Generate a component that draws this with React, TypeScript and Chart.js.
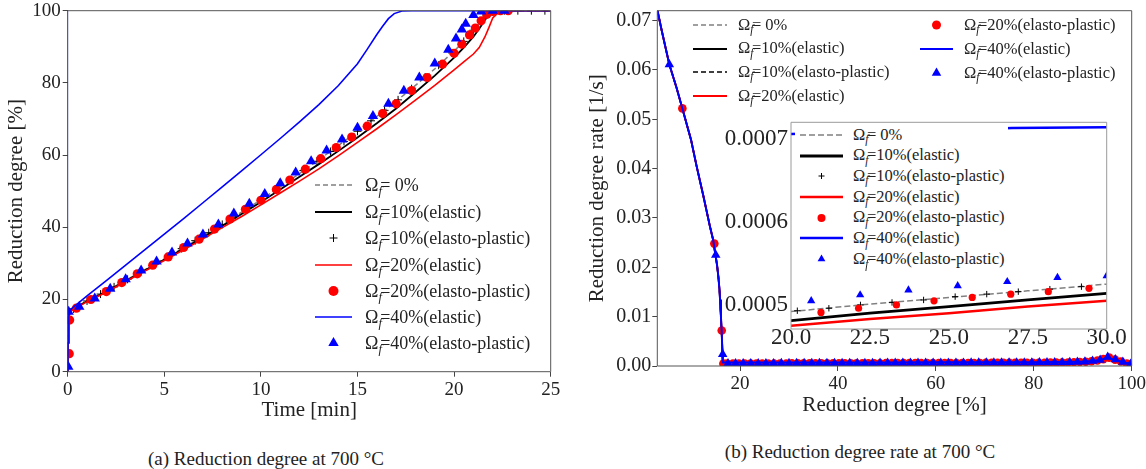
import React, { useEffect, useRef } from 'react';
import { Chart, registerables } from 'chart.js';

Chart.register(...registerables);

const FONT = "'Liberation Serif', 'Times New Roman', serif";
Chart.defaults.font.family = FONT;

// ================= Panel (a): Reduction degree vs time =================
const timeTicks = [0, 5, 10, 15, 20, 25];
const degreeTicks = [0, 20, 40, 60, 80, 100];

// Ωf = 0%
const t0 = [0, 0.02, 0.05, 0.15, 1, 2, 3, 4, 5, 6, 7, 8, 9, 10, 11, 12, 13, 14, 15, 16, 17, 18, 19, 20, 20.5, 21, 21.3, 21.6, 21.9, 22.2, 25];
const r0 = [0, 8, 15.5, 17, 19.6, 22.3, 25.3, 28.3, 31.3, 34.4, 37.5, 40.8, 44.2, 47.6, 51.2, 54.9, 58.7, 62.6, 66.6, 70.7, 74.9, 79.3, 83.9, 88.8, 91.5, 94.6, 96.5, 98.4, 99.6, 100, 100];
// Ωf = 10% elastic
const t10e = [0, 0.02, 0.05, 0.15, 1, 2, 3, 4, 5, 6, 7, 8, 9, 10, 11, 12, 13, 14, 15, 16, 17, 18, 19, 20, 20.5, 21, 21.3, 21.6, 21.9, 22.2, 25];
const r10e = [0, 8, 15.5, 17, 19.5, 22.2, 25.1, 28.1, 31.1, 34.1, 37.2, 40.4, 43.7, 47.0, 50.5, 54.0, 57.5, 61.1, 64.9, 68.8, 72.9, 77.4, 82.0, 87.0, 89.8, 92.8, 95.0, 97.5, 99.4, 100, 100];
// Ωf = 10% elasto-plastic (+)
const t10p = [0.3, 1.0, 1.7, 2.4, 3.1, 3.8, 4.5, 5.2, 5.9, 6.6, 7.3, 8.0, 8.7, 9.4, 10.1, 10.8, 11.5, 12.2, 12.9, 13.6, 14.3, 15.0, 15.7, 16.4, 17.1, 17.8, 18.5, 19.2, 19.9, 20.5, 21.0, 21.5, 22.0, 22.6, 23.3, 24.0, 24.7];
const r10p = [17.4, 19.6, 21.5, 23.5, 25.6, 27.7, 29.8, 31.9, 34.1, 36.3, 38.5, 40.8, 43.2, 45.6, 48.0, 50.5, 53.1, 55.7, 58.3, 61.0, 63.8, 66.6, 69.5, 72.4, 75.3, 78.4, 81.6, 84.9, 88.3, 91.5, 94.6, 97.8, 99.8, 100, 100, 100, 100];
// Ωf = 20% elastic
const t20e = [0, 0.02, 0.05, 0.15, 1, 2, 3, 4, 5, 6, 7, 8, 9, 10, 11, 12, 13, 14, 15, 16, 17, 18, 19, 20, 20.5, 21, 21.3, 21.6, 21.8, 22.0, 22.3, 22.6, 25];
const r20e = [0, 8, 15, 16.7, 19.4, 22, 25, 27.9, 30.8, 33.8, 36.8, 39.9, 43.0, 46.2, 49.5, 52.8, 56.2, 59.8, 63.5, 67.3, 71.2, 75.2, 79.3, 83.6, 85.8, 88.0, 89.8, 92.8, 95.3, 98.0, 99.5, 100, 100];
// Ωf = 20% elasto-plastic (dots)
const t20p = [0.08, 0.1, 0.45, 1.2, 2.0, 2.8, 3.6, 4.4, 5.2, 6.0, 6.8, 7.6, 8.4, 9.2, 10.0, 10.8, 11.5, 12.3, 13.1, 13.9, 14.7, 15.5, 16.3, 17.0, 17.8, 18.6, 19.4, 20.0, 20.4, 20.8, 21.1, 21.4, 21.7, 22.0, 22.4, 22.8];
const r20p = [5.0, 14.3, 17.6, 20.0, 22.2, 24.7, 27.1, 29.5, 31.8, 34.4, 36.7, 39.5, 42.3, 45.0, 47.5, 50.5, 53.1, 56.1, 59.0, 62.1, 65.0, 68.0, 71.5, 74.2, 77.9, 81.5, 85.2, 88.2, 90.7, 93.3, 95.2, 97.2, 99.0, 99.8, 100, 100];
// Ωf = 40% elastic
const t40e = [0, 0.02, 0.05, 0.12, 1, 2, 3, 4, 5, 6, 7, 8, 9, 10, 11, 12, 13, 14, 15, 15.5, 16, 16.3, 16.6, 16.9, 17.3, 17.8, 25];
const r40e = [0, 8, 15.5, 17.1, 21, 25.2, 29.5, 33.8, 38.1, 42.4, 46.8, 51.2, 55.6, 60.1, 64.6, 69.2, 74, 79.2, 85.3, 89.3, 93.4, 95.7, 97.8, 99.2, 99.9, 100, 100];
// Ωf = 40% elasto-plastic (triangles)
const t40p = [0.03, 0.05, 0.6, 1.4, 2.2, 3.0, 3.8, 4.6, 5.4, 6.2, 7.0, 7.8, 8.6, 9.4, 10.2, 11.0, 11.8, 12.6, 13.4, 14.2, 15.0, 15.8, 16.6, 17.4, 18.2, 19.0, 19.7, 20.1, 20.4, 20.6, 21.0, 21.4, 22.0, 22.6];
const r40p = [1.4, 16.6, 18.0, 20.3, 23.0, 25.6, 28.0, 30.5, 33.0, 35.5, 38.0, 40.8, 43.8, 46.5, 49.2, 52.2, 55.2, 58.3, 61.3, 64.3, 67.6, 70.8, 74.2, 77.8, 81.5, 85.4, 89.2, 92.3, 94.8, 96.4, 98.8, 99.8, 100, 100];

// ================= Panel (b): Reduction degree rate =================
const degTicksB = [20, 40, 60, 80, 100];
const rateTicks = [0, 0.01, 0.02, 0.03, 0.04, 0.05, 0.06, 0.07];
const insetXTicks = [20, 22.5, 25, 27.5, 30];
const insetYTicks = [0.0005, 0.0006, 0.0007];

// common steep drop (all series coincide)
const dropX = [3.1, 4, 5.56, 7, 8.22, 10, 11.15, 12.5, 13.87, 14.5, 14.9, 15.3, 15.57, 15.8, 15.92, 16.1, 16.26, 16.4, 16.46];
const dropY = [0.0722, 0.068, 0.0611, 0.0565, 0.0522, 0.0458, 0.0404, 0.0345, 0.0282, 0.0256, 0.023, 0.0205, 0.0181, 0.0155, 0.0134, 0.01, 0.0066, 0.003, 0.0007];

// slow tails
const tailX = [16.5, 18, 20, 22.5, 25, 27.5, 30, 35, 40, 50, 60, 70, 80, 85, 88, 90, 92, 93.5, 95, 96.5, 98, 100];
const tail0 = [0.00048, 0.000485, 0.000492, 0.000501, 0.000509, 0.000517, 0.000525, 0.00054, 0.000555, 0.00058, 0.00061, 0.00064, 0.00068, 0.00072, 0.00078, 0.00085, 0.00098, 0.0012, 0.0016, 0.0013, 0.0008, 0.0004];
const tail10e = [0.00047, 0.000475, 0.000481, 0.00049, 0.000498, 0.000506, 0.000514, 0.000529, 0.000544, 0.00057, 0.0006, 0.00063, 0.00067, 0.00071, 0.00077, 0.00084, 0.00097, 0.0012, 0.0016, 0.0013, 0.0008, 0.0004];
const tail20e = [0.000465, 0.00047, 0.000475, 0.000483, 0.00049, 0.000498, 0.000505, 0.00052, 0.000535, 0.00056, 0.00059, 0.00062, 0.00066, 0.0007, 0.00076, 0.00083, 0.00096, 0.0012, 0.0016, 0.0013, 0.0008, 0.0004];
const tail10pX = [16.5, 17.2, 18.2, 19.2, 20.2, 21.2, 22.2, 23.2, 24.2, 25.2, 26.2, 27.2, 28.2, 29.2, 30.2, 35, 40, 50, 60, 70, 80, 85, 88, 90, 92, 93.5, 95, 96.5, 98, 100];
const tail10pY = [0.00048, 0.000483, 0.000486, 0.00049, 0.000493, 0.000496, 0.0005, 0.000503, 0.000506, 0.00051, 0.000513, 0.000516, 0.000519, 0.000522, 0.000526, 0.00054, 0.000555, 0.00058, 0.00061, 0.00064, 0.00068, 0.00072, 0.00078, 0.00085, 0.00098, 0.0012, 0.0016, 0.0013, 0.0008, 0.0004];
const tail40eX = [17, 19.65, 20, 25, 27, 30, 40, 50, 60, 70, 80, 85, 88, 90, 92, 93.5, 95, 96.5, 98, 100];
const tail40eY = [0.000698, 0.000705, 0.000706, 0.00071, 0.000713, 0.000714, 0.00072, 0.00073, 0.00074, 0.00075, 0.00077, 0.0008, 0.00085, 0.0009, 0.001, 0.0012, 0.0016, 0.0013, 0.0008, 0.0004];

const dots20X = [8.22, 14.75, 16.26, 16.6, 17.35, 18.55, 19.75, 20.95, 22.14, 23.34, 24.53, 25.74, 26.96, 28.15, 29.44, 30.6, 31.8, 33.0, 34.2, 35.4, 36.6, 37.8, 39.0, 40.2, 41.4, 42.6, 43.8, 45.0, 46.2, 47.4, 48.6, 49.8, 51.0, 52.2, 53.4, 54.6, 55.8, 57.0, 58.2, 59.4, 60.6, 61.8, 63.0, 64.2, 65.4, 66.6, 67.8, 69.0, 70.2, 71.4, 72.6, 73.8, 75.0, 76.2, 77.4, 78.6, 79.8, 81.0, 82.2, 83.4, 84.6, 85.8, 87.0, 88.2, 89.4, 90.6, 91.8, 93.0, 94.2, 95.4, 96.6, 97.8, 99.0];
const dots20Y = [0.0522, 0.0248, 0.0072, 0.00048, 0.000482, 0.000485, 0.000488, 0.000491, 0.000496, 0.0005, 0.000505, 0.000509, 0.000513, 0.000516, 0.00052, 0.000523, 0.000527, 0.00053, 0.000534, 0.000537, 0.00054, 0.000544, 0.000547, 0.00055, 0.000553, 0.000556, 0.000559, 0.000562, 0.000565, 0.000568, 0.000571, 0.000574, 0.000577, 0.00058, 0.000583, 0.000586, 0.000589, 0.000592, 0.000595, 0.000598, 0.000601, 0.000604, 0.000607, 0.00061, 0.000613, 0.000616, 0.00062, 0.000623, 0.000627, 0.00063, 0.000634, 0.000638, 0.000642, 0.000646, 0.00065, 0.000655, 0.00066, 0.000666, 0.000672, 0.00068, 0.00069, 0.0007, 0.00072, 0.00075, 0.0008, 0.00087, 0.00096, 0.0011, 0.0014, 0.0017, 0.0013, 0.0009, 0.0005];
const tri40X = [5.56, 15.04, 16.46, 17.54, 19.09, 20.64, 22.19, 23.72, 25.28, 26.85, 28.44, 30.0, 31.55, 33.1, 34.65, 36.2, 37.75, 39.3, 40.85, 42.4, 43.95, 45.5, 47.05, 48.6, 50.15, 51.7, 53.25, 54.8, 56.35, 57.9, 59.45, 61.0, 62.55, 64.1, 65.65, 67.2, 68.75, 70.3, 71.85, 73.4, 74.95, 76.5, 78.05, 79.6, 81.15, 82.7, 84.25, 85.8, 87.35, 88.9, 90.45, 92.0, 93.55, 95.1, 96.65, 98.2, 99.75];
const tri40Y = [0.0611, 0.0225, 0.0024, 0.000498, 0.000501, 0.000505, 0.000512, 0.000518, 0.000523, 0.000528, 0.000533, 0.000535, 0.00054, 0.000545, 0.00055, 0.000554, 0.000558, 0.000562, 0.000566, 0.00057, 0.000574, 0.000578, 0.000582, 0.000586, 0.00059, 0.000594, 0.000598, 0.000602, 0.000606, 0.00061, 0.000614, 0.000618, 0.000622, 0.000626, 0.00063, 0.000635, 0.00064, 0.000645, 0.00065, 0.000655, 0.00066, 0.000666, 0.000672, 0.00068, 0.00069, 0.0007, 0.00071, 0.00073, 0.00076, 0.0008, 0.00088, 0.001, 0.0012, 0.0018, 0.0013, 0.0008, 0.0004];

const seriesLabels = ['= 0%', '=10%(elastic)', '=10%(elasto-plastic)', '=20%(elastic)', '=20%(elasto-plastic)', '=40%(elastic)', '=40%(elasto-plastic)'];
const captionA = '(a) Reduction degree at 700 °C';
const captionB = '(b) Reduction degree rate at 700 °C';

// ================= helpers =================
const pts = (xs: number[], ys: number[]) => xs.map((x, i) => ({ x, y: ys[i] }));

const RED = '#ff0000';
const BLUE = '#0000ff';
const GRAY = '#808080';
const TXT = '#222';

const framePlugin = {
  id: 'frame',
  beforeDatasetsDraw(chart: any, _a: any, opts: any) {
    if (!opts || !opts.fill) return;
    const { ctx, chartArea: a } = chart;
    ctx.save();
    ctx.fillStyle = opts.fill;
    ctx.fillRect(a.left, a.top, a.right - a.left, a.bottom - a.top);
    ctx.restore();
  },
  afterDraw(chart: any, _a: any, opts: any) {
    const { ctx, chartArea: a } = chart;
    ctx.save();
    ctx.lineWidth = opts.width || 1;
    const side = (c: string, x1: number, y1: number, x2: number, y2: number) => {
      ctx.strokeStyle = c;
      ctx.beginPath();
      ctx.moveTo(x1, y1);
      ctx.lineTo(x2, y2);
      ctx.stroke();
    };
    const c = opts.color || '#444';
    side(c, a.left, a.top, a.right, a.top);
    side(c, a.right, a.top, a.right, a.bottom);
    side(c, a.left, a.bottom, a.right, a.bottom);
    side(opts.leftColor || c, a.left, a.top, a.left, a.bottom);
    ctx.restore();
  },
};

function lineDs(data: any[], color: string, width: number, order: number, dash?: number[], clip: any = 0) {
  return { data, showLine: true, borderColor: color, backgroundColor: color, borderWidth: width, borderDash: dash || [], pointRadius: 0, fill: false, order, clip };
}
function markDs(data: any[], style: string, color: string, radius: number, order: number) {
  const cross = style === 'cross';
  return {
    data, showLine: false, pointStyle: style, pointRadius: radius,
    pointBackgroundColor: color, pointBorderColor: color, pointBorderWidth: cross ? 1 : 0,
    order, clip: 0,
  };
}

function axisCommon(font: number, tickLen: number, pad: number) {
  return {
    type: 'linear' as const,
    border: { display: false },
    grid: { display: tickLen > 0, drawOnChartArea: false, drawTicks: tickLen > 0, tickLength: tickLen, color: '#444', lineWidth: 1 },
    ticks: { font: { size: font }, color: TXT, padding: pad, autoSkip: false, maxRotation: 0, minRotation: 0 },
  };
}

function ChartCanvas({ make, left, top, width, height }: { make: () => any; left: number; top: number; width: number; height: number }) {
  const ref = useRef<HTMLCanvasElement>(null);
  useEffect(() => {
    const chart = new Chart(ref.current as HTMLCanvasElement, make());
    return () => chart.destroy();
  }, []);
  return <canvas ref={ref} width={width} height={height} style={{ position: 'absolute', left, top, width, height }} />;
}

// ---------- panel (a) ----------
function makeA() {
  const x: any = axisCommon(19, 5, 2);
  x.min = 0; x.max = 25;
  x.afterBuildTicks = (s: any) => { s.ticks = timeTicks.map((v) => ({ value: v })); };
  x.afterFit = (s: any) => { s.height = 68.3; };
  x.title = { display: true, text: 'Time [min]', font: { size: 21 }, color: TXT, padding: { top: 0, bottom: 17.4 } };
  const y: any = axisCommon(19, 5, 2);
  y.min = 0; y.max = 100;
  y.afterBuildTicks = (s: any) => { s.ticks = degreeTicks.map((v) => ({ value: v })); };
  y.afterFit = (s: any) => { s.width = 67.7; };
  y.title = { display: true, text: 'Reduction degree [%]', font: { size: 21 }, color: TXT, padding: { top: 3.4, bottom: 0 } };
  return {
    type: 'scatter',
    data: {
      datasets: [
        lineDs(pts(t0, r0), GRAY, 1.5, 7, [5, 3]),
        lineDs(pts(t10e, r10e), '#000', 1.8, 6),
        markDs(pts(t10p, r10p), 'cross', '#000', 4, 5),
        lineDs(pts(t20e, r20e), RED, 1.6, 4),
        markDs(pts(t20p, r20p), 'circle', RED, 4.6, 3),
        lineDs(pts(t40e, r40e), BLUE, 1.6, 2),
        markDs(pts(t40p, r40p), 'triangle', BLUE, 6, 1),
      ],
    },
    options: {
      animation: false, responsive: false, maintainAspectRatio: false, events: [],
      layout: { padding: { top: 30.7, right: 24.3, left: 0, bottom: 0 } },
      plugins: { legend: { display: false }, tooltip: { enabled: false }, frame: { color: '#555', leftColor: '#2f2f8f' } },
      scales: { x, y },
    },
    plugins: [framePlugin],
  };
}

// ---------- panel (b) datasets ----------
function rateDatasets(inset: boolean) {
  return [
    lineDs(pts(dropX.concat(tailX), dropY.concat(tail0)), GRAY, 1.5, 7, [6, 3]),
    lineDs(pts(dropX.concat(tailX), dropY.concat(tail10e)), '#000', inset ? 2.8 : 1.8, 6),
    inset
      ? markDs(pts(dropX.concat(tail10pX), dropY.concat(tail10pY)), 'cross', '#000', 3.2, 5)
      : lineDs(pts(dropX.concat(tail10pX), dropY.concat(tail10pY)), '#000', 1.5, 5, [5, 3]),
    lineDs(pts(dropX.concat(tailX), dropY.concat(tail20e)), RED, inset ? 2.5 : 1.8, 4),
    markDs(pts(dots20X, dots20Y), 'circle', RED, inset ? 3.6 : 4.3, 3),
    lineDs(pts(dropX.concat(tail40eX), dropY.concat(tail40eY)), BLUE, inset ? 2.5 : 2, 2, inset ? { left: 12, top: 0, right: 0, bottom: 0 } : 0),
    markDs(pts(tri40X, tri40Y), 'triangle', BLUE, inset ? 4.8 : 5.5, 1),
  ];
}

function makeB() {
  const x: any = axisCommon(19, 5, 2);
  x.min = 3.1; x.max = 100;
  x.afterBuildTicks = (s: any) => { s.ticks = degTicksB.map((v) => ({ value: v })); };
  x.afterFit = (s: any) => { s.height = 74; };
  x.title = { display: true, text: 'Reduction degree [%]', font: { size: 21 }, color: TXT, padding: { top: 0, bottom: 22.4 } };
  const y: any = axisCommon(20, 5, 1);
  y.min = 0; y.max = 0.072;
  y.afterBuildTicks = (s: any) => { s.ticks = rateTicks.map((v) => ({ value: v })); };
  y.ticks.callback = (v: number) => Number(v).toFixed(2);
  y.afterFit = (s: any) => { s.width = 77.3; };
  y.title = { display: true, text: 'Reduction degree rate [1/s]', font: { size: 21 }, color: TXT, padding: { top: 4.4, bottom: 0 } };
  return {
    type: 'scatter',
    data: { datasets: rateDatasets(false) },
    options: {
      animation: false, responsive: false, maintainAspectRatio: false, events: [],
      layout: { padding: { top: 30.7, right: 28.3, left: 0, bottom: 0 } },
      plugins: { legend: { display: false }, tooltip: { enabled: false }, frame: { color: '#555' } },
      scales: { x, y },
    },
    plugins: [framePlugin],
  };
}

function makeInset() {
  const x: any = axisCommon(23, 0, -5);
  x.min = 20; x.max = 30;
  x.afterBuildTicks = (s: any) => { s.ticks = insetXTicks.map((v) => ({ value: v })); };
  x.ticks.callback = (v: number) => Number(v).toFixed(1);
  x.afterFit = (s: any) => { s.height = 41; };
  const y: any = axisCommon(23, 0, 3);
  y.min = 0.000471; y.max = 0.00072;
  y.afterBuildTicks = (s: any) => { s.ticks = insetYTicks.map((v) => ({ value: v })); };
  y.ticks.callback = (v: number) => Number(v).toFixed(4);
  y.afterFit = (s: any) => { s.width = 91; };
  return {
    type: 'scatter',
    data: { datasets: rateDatasets(true) },
    options: {
      animation: false, responsive: false, maintainAspectRatio: false, events: [],
      layout: { padding: { top: 22.3, right: 33.3, left: 0, bottom: 0 } },
      plugins: { legend: { display: false }, tooltip: { enabled: false }, frame: { color: '#9a9a9a', fill: '#ffffff' } },
      scales: { x, y },
    },
    plugins: [framePlugin],
  };
}

// ---------- legends (HTML) ----------
type Mark = { kind: 'line' | 'dot' | 'tri' | 'plus'; color: string; width?: number; dash?: string; size?: number };

function Sample({ m, w, h }: { m: Mark; w: number; h: number }) {
  const cy = h / 2;
  const cx = w / 2;
  if (m.kind === 'line') {
    return (
      <svg width={w} height={h} style={{ display: 'block', flex: 'none' }}>
        <line x1={0} y1={cy} x2={w} y2={cy} stroke={m.color} strokeWidth={m.width || 1.5} strokeDasharray={m.dash} />
      </svg>
    );
  }
  const s = m.size || 8;
  if (m.kind === 'dot') {
    return (
      <svg width={w} height={h} style={{ display: 'block', flex: 'none' }}>
        <circle cx={cx} cy={cy} r={s / 2} fill={m.color} />
      </svg>
    );
  }
  if (m.kind === 'tri') {
    const r = s / 2;
    const p = `${cx},${cy - r} ${cx + r * 0.866},${cy + r * 0.5} ${cx - r * 0.866},${cy + r * 0.5}`;
    return (
      <svg width={w} height={h} style={{ display: 'block', flex: 'none' }}>
        <polygon points={p} fill={m.color} />
      </svg>
    );
  }
  const r = s / 2;
  return (
    <svg width={w} height={h} style={{ display: 'block', flex: 'none' }}>
      <line x1={cx - r} y1={cy} x2={cx + r} y2={cy} stroke={m.color} strokeWidth={1} />
      <line x1={cx} y1={cy - r} x2={cx} y2={cy + r} stroke={m.color} strokeWidth={1} />
    </svg>
  );
}

function Label({ text }: { text: string }) {
  return (
    <span>
      Ω<i style={{ fontSize: '0.7em', position: 'relative', top: '0.32em', marginRight: '-0.14em' }}>f</i>
      {text}
    </span>
  );
}

type Row = { i: number; mark: Mark; x1: number; x2: number; tx: number; cy: number };

function Legend({ rows, size }: { rows: Row[]; size: number }) {
  return (
    <>
      {rows.map((r, k) => {
        const h = 22;
        return (
          <div key={k} style={{ position: 'absolute', left: r.x1, top: r.cy - h / 2, height: h, display: 'flex', alignItems: 'center', whiteSpace: 'nowrap', fontFamily: FONT, fontSize: size, color: TXT, lineHeight: 1 }}>
            <Sample m={r.mark} w={r.x2 - r.x1} h={h} />
            <span style={{ marginLeft: r.tx - r.x2 }}>
              <Label text={seriesLabels[r.i]} />
            </span>
          </div>
        );
      })}
    </>
  );
}

const legendAMarks: Mark[] = [
  { kind: 'line', color: GRAY, width: 1.5, dash: '5 3' },
  { kind: 'line', color: '#000', width: 1.8 },
  { kind: 'plus', color: '#000', size: 8 },
  { kind: 'line', color: RED, width: 1.6 },
  { kind: 'dot', color: RED, size: 10 },
  { kind: 'line', color: BLUE, width: 1.6 },
  { kind: 'tri', color: BLUE, size: 12 },
];
const legendAY = [185, 211.7, 238.3, 265, 291, 316.7, 343.3];
const legendARows: Row[] = legendAMarks.map((m, i) => ({ i, mark: m, x1: 315, x2: 352, tx: 365, cy: legendAY[i] }));

const legendBMarks: Mark[] = [
  { kind: 'line', color: GRAY, width: 1.5, dash: '5 3' },
  { kind: 'line', color: '#000', width: 2 },
  { kind: 'line', color: '#000', width: 1.6, dash: '5 3' },
  { kind: 'line', color: RED, width: 1.8 },
  { kind: 'dot', color: RED, size: 9 },
  { kind: 'line', color: BLUE, width: 2 },
  { kind: 'tri', color: BLUE, size: 11 },
];
const legendBPos = [
  { x1: 693, x2: 727, tx: 738, cy: 25 },
  { x1: 693, x2: 727, tx: 738, cy: 48.5 },
  { x1: 693, x2: 727, tx: 738, cy: 72 },
  { x1: 693, x2: 727, tx: 738, cy: 96 },
  { x1: 920, x2: 953, tx: 964, cy: 25 },
  { x1: 920, x2: 953, tx: 964, cy: 49 },
  { x1: 920, x2: 953, tx: 964, cy: 73 },
];
const legendBRows: Row[] = legendBMarks.map((m, i) => ({ i, mark: m, ...legendBPos[i] }));

const legendCMarks: Mark[] = [
  { kind: 'line', color: GRAY, width: 1.5, dash: '6 3' },
  { kind: 'line', color: '#000', width: 3 },
  { kind: 'plus', color: '#000', size: 6 },
  { kind: 'line', color: RED, width: 2.5 },
  { kind: 'dot', color: RED, size: 8 },
  { kind: 'line', color: BLUE, width: 2.5 },
  { kind: 'tri', color: BLUE, size: 9 },
];
const legendCY = [135, 155.7, 176, 197, 217.7, 238.3, 259.3];
const legendCRows: Row[] = legendCMarks.map((m, i) => ({ i, mark: m, x1: 800, x2: 843, tx: 853, cy: legendCY[i] }));

export default function App() {
  return (
    <div style={{ position: 'fixed', left: 0, top: 0, width: 1146, height: 469, overflow: 'hidden', background: '#fff' }}>
      <ChartCanvas make={makeA} left={0} top={-20} width={575} height={460} />
      <ChartCanvas make={makeB} left={580} top={-20} width={580} height={460} />
      <ChartCanvas make={makeInset} left={700} top={100} width={440} height={270} />
      <Legend rows={legendARows} size={18} />
      <Legend rows={legendBRows} size={16.5} />
      <div style={{ position: 'absolute', left: 795, top: 124, width: 213, height: 146, background: '#fff' }} />
      <Legend rows={legendCRows} size={16.5} />
      <div style={{ position: 'absolute', left: 66, top: 447, width: 400, textAlign: 'center', fontFamily: FONT, fontSize: 19, color: TXT, lineHeight: '24px' }}>{captionA}</div>
      <div style={{ position: 'absolute', left: 660, top: 440, width: 400, textAlign: 'center', fontFamily: FONT, fontSize: 19, color: TXT, lineHeight: '24px' }}>{captionB}</div>
    </div>
  );
}
